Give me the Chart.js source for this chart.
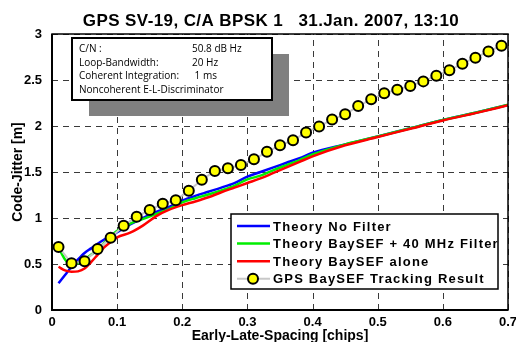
<!DOCTYPE html>
<html>
<head>
<meta charset="utf-8">
<script src="https://cdn.jsdelivr.net/npm/chart.js@4.4.1/dist/chart.umd.min.js"></script>
<style>
  html, body { margin: 0; padding: 0; background: #fff; }
  #wrap { width: 516px; height: 342px; }
</style>
</head>
<body>
<div id="wrap"><canvas id="myChart" width="516" height="342"></canvas></div>
<script>
// DATA
const theorySpacing = [0.01, 0.02, 0.03, 0.04, 0.05, 0.06, 0.07, 0.08, 0.09, 0.1,
  0.12, 0.14, 0.16, 0.18, 0.2, 0.22, 0.24, 0.26, 0.28, 0.3,
  0.32, 0.34, 0.36, 0.38, 0.4, 0.45, 0.5, 0.55, 0.6, 0.65, 0.7];
const theoryNoFilter = [0.29, 0.38, 0.47, 0.55, 0.62, 0.67, 0.72, 0.765, 0.8, 0.845,
  0.93, 1.0, 1.065, 1.12, 1.19, 1.24, 1.285, 1.33, 1.38, 1.45,
  1.5, 1.55, 1.6, 1.65, 1.71, 1.8, 1.885, 1.975, 2.065, 2.145, 2.228];
const theoryBaySEF40 = [0.68, 0.55, 0.49, 0.51, 0.55, 0.6, 0.655, 0.73, 0.8, 0.86,
  0.94, 0.99, 1.045, 1.1, 1.17, 1.215, 1.255, 1.3, 1.35, 1.42,
  1.46, 1.52, 1.575, 1.63, 1.69, 1.8, 1.885, 1.975, 2.065, 2.145, 2.23];
const theoryBaySEFAlone = [0.47, 0.43, 0.415, 0.42, 0.45, 0.52, 0.6, 0.68, 0.74, 0.79,
  0.84, 0.92, 1.02, 1.09, 1.14, 1.18, 1.225, 1.28, 1.33, 1.38,
  1.43, 1.49, 1.55, 1.61, 1.67, 1.79, 1.88, 1.97, 2.06, 2.14, 2.225];

const trackSpacing = [0.01, 0.03, 0.05, 0.07, 0.09, 0.11, 0.13, 0.15, 0.17, 0.19,
  0.21, 0.23, 0.25, 0.27, 0.29, 0.31, 0.33, 0.35, 0.37, 0.39,
  0.41, 0.43, 0.45, 0.47, 0.49, 0.51, 0.53, 0.55, 0.57, 0.59,
  0.61, 0.63, 0.65, 0.67, 0.69];
const trackJitter = [0.685, 0.507, 0.529, 0.663, 0.786, 0.917, 1.014, 1.087, 1.155, 1.194,
  1.295, 1.415, 1.511, 1.54, 1.576, 1.638, 1.72, 1.79, 1.845, 1.93,
  1.995, 2.07, 2.127, 2.217, 2.29, 2.355, 2.395, 2.435, 2.485, 2.547,
  2.605, 2.677, 2.743, 2.81, 2.873];

const infoLabels = ["C/N :", "Loop-Bandwidth:", "Coherent Integration:", "Noncoherent E-L-Discriminator"];
const infoValues = ["50.8 dB Hz", "20 Hz", " 1 ms", ""];

const titleText = "GPS SV-19, C/A BPSK 1   31.Jan. 2007, 13:10";
const FONT = "'Liberation Sans', Arial, sans-serif";

function pts(xs, ys) {
  return xs.map((x, i) => ({ x: x, y: ys[i] }));
}

//CHART CONFIGURATION
const data = {
  datasets: [
    {
      label: "Theory No Filter",
      data: pts(theorySpacing, theoryNoFilter),
      borderColor: "#0000ff",
      borderWidth: 2.5,
      pointRadius: 0,
      cubicInterpolationMode: "monotone",
      order: 3,
    },
    {
      label: "Theory BaySEF + 40 MHz Filter",
      data: pts(theorySpacing, theoryBaySEF40),
      borderColor: "#00ee00",
      borderWidth: 2.5,
      pointRadius: 0,
      cubicInterpolationMode: "monotone",
      order: 2,
    },
    {
      label: "Theory BaySEF alone",
      data: pts(theorySpacing, theoryBaySEFAlone),
      borderColor: "#ff0000",
      borderWidth: 2.5,
      pointRadius: 0,
      cubicInterpolationMode: "monotone",
      order: 1,
    },
    {
      label: "GPS BaySEF Tracking Result",
      data: pts(trackSpacing, trackJitter),
      borderColor: "#c8c8c8",
      borderWidth: 2,
      pointRadius: 5,
      pointBorderWidth: 2,
      pointBackgroundColor: "#ffff00",
      pointBorderColor: "#000000",
      tension: 0,
      order: 0,
    },
  ],
};

// dashed grid under the data
const dashedGrid = {
  id: "dashedGrid",
  beforeDatasetsDraw(chart) {
    const ctx = chart.ctx;
    const a = chart.chartArea;
    const xs = chart.scales.x, ys = chart.scales.y;
    ctx.save();
    ctx.strokeStyle = "#3a3a3a";
    ctx.lineWidth = 1;
    ctx.setLineDash([6, 5]);
    xs.ticks.forEach((t, i) => {
      const px = Math.round(xs.getPixelForTick(i)) + 0.5;
      ctx.beginPath();
      ctx.moveTo(px, a.bottom);
      ctx.lineTo(px, a.top);
      ctx.stroke();
    });
    ys.ticks.forEach((t, i) => {
      const py = Math.round(ys.getPixelForTick(i)) + 0.5;
      ctx.beginPath();
      ctx.moveTo(a.left, py);
      ctx.lineTo(a.right, py);
      ctx.stroke();
    });
    ctx.restore();
  },
};

// custom drawing: title, frame, info box, legend
const extras = {
  id: "extras",
  afterDraw(chart) {
    const ctx = chart.ctx;
    const a = chart.chartArea;
    ctx.save();

    // frame
    ctx.strokeStyle = "#000";
    ctx.lineWidth = 1.5;
    ctx.strokeRect(a.left, a.top, a.right - a.left, a.bottom - a.top);
    ctx.lineWidth = 2;
    ctx.beginPath();
    ctx.moveTo(a.left, a.top);
    ctx.lineTo(a.left, a.bottom);
    ctx.lineTo(a.right, a.bottom);
    ctx.stroke();

    // title
    ctx.fillStyle = "#000";
    ctx.font = "bold 17px " + FONT;
    ctx.letterSpacing = "0.4px";
    ctx.textAlign = "center";
    ctx.textBaseline = "middle";
    ctx.fillText(titleText, 271, 21);
    ctx.letterSpacing = "0px";

    // info box with shadow
    ctx.fillStyle = "#808080";
    ctx.fillRect(89, 54, 200, 62);
    ctx.fillStyle = "#fff";
    ctx.fillRect(72, 38, 200, 62);
    ctx.strokeStyle = "#000";
    ctx.lineWidth = 2;
    ctx.strokeRect(72, 38, 200, 62);
    ctx.fillStyle = "#000";
    ctx.font = "10px 'Open Sans', sans-serif";
    ctx.textAlign = "left";
    infoLabels.forEach((t, i) => {
      const y = 49 + i * 13.7;
      ctx.fillText(t, 79, y);
      if (infoValues[i]) ctx.fillText(infoValues[i], 192, y);
    });

    // legend
    const lx = 231, ly = 214, lw = 267, lh = 75;
    ctx.fillStyle = "#fff";
    ctx.fillRect(lx, ly, lw, lh);
    ctx.strokeStyle = "#000";
    ctx.lineWidth = 1.5;
    ctx.strokeRect(lx, ly, lw, lh);
    ctx.font = "bold 13px " + FONT;
    ctx.letterSpacing = "1.2px";
    chart.data.datasets.forEach((ds, i) => {
      const y = 226 + i * 17.6;
      ctx.strokeStyle = ds.borderColor;
      ctx.lineWidth = ds.borderWidth;
      ctx.beginPath();
      ctx.moveTo(237, y);
      ctx.lineTo(270, y);
      ctx.stroke();
      if (ds.pointRadius > 0) {
        ctx.beginPath();
        ctx.arc(253, y, ds.pointRadius, 0, Math.PI * 2);
        ctx.fillStyle = ds.pointBackgroundColor;
        ctx.fill();
        ctx.lineWidth = ds.pointBorderWidth;
        ctx.strokeStyle = ds.pointBorderColor;
        ctx.stroke();
      }
      ctx.fillStyle = "#000";
      ctx.fillText(ds.label, 273, y + 1);
    });
    ctx.restore();
  },
};

const config = {
  type: "line",
  data,
  options: {
    responsive: false,
    animation: false,
    layout: { padding: { top: 34, right: 8, left: 0, bottom: 0 } },
    plugins: {
      legend: { display: false },
      title: { display: false },
      tooltip: { enabled: false },
    },
    scales: {
      x: {
        type: "linear",
        min: 0,
        max: 0.7,
        ticks: {
          stepSize: 0.1,
          padding: 5,
          color: "#000",
          font: { family: FONT, size: 13, weight: "bold" },
          callback: (v) => String(Math.round(v * 10) / 10),
        },
        grid: { display: false, drawTicks: false },
        border: { display: false },
        title: {
          display: true,
          text: "Early-Late-Spacing [chips]",
          color: "#000",
          font: { family: FONT, size: 14, weight: "bold" },
          padding: { top: 0, bottom: -3 },
        },
        afterFit(scale) {
          scale.height = 32;
          scale.paddingLeft = 0;
          scale.paddingRight = 0;
        },
      },
      y: {
        min: 0,
        max: 3,
        ticks: {
          stepSize: 0.5,
          padding: 10,
          color: "#000",
          font: { family: FONT, size: 13, weight: "bold" },
          callback: (v) => String(Math.round(v * 10) / 10),
        },
        grid: { display: false, drawTicks: false },
        border: { display: false },
        title: {
          display: true,
          text: "Code-Jitter [m]",
          color: "#000",
          font: { family: FONT, size: 14, weight: "bold" },
          padding: { top: 10, bottom: 0 },
        },
        afterFit(scale) {
          scale.width = 52;
          scale.paddingTop = 0;
          scale.paddingBottom = 0;
        },
      },
    },
  },
  plugins: [dashedGrid, extras],
};

// RENDER CHART
const myChart = new Chart(document.getElementById("myChart"), config);
</script>
</body>
</html>
